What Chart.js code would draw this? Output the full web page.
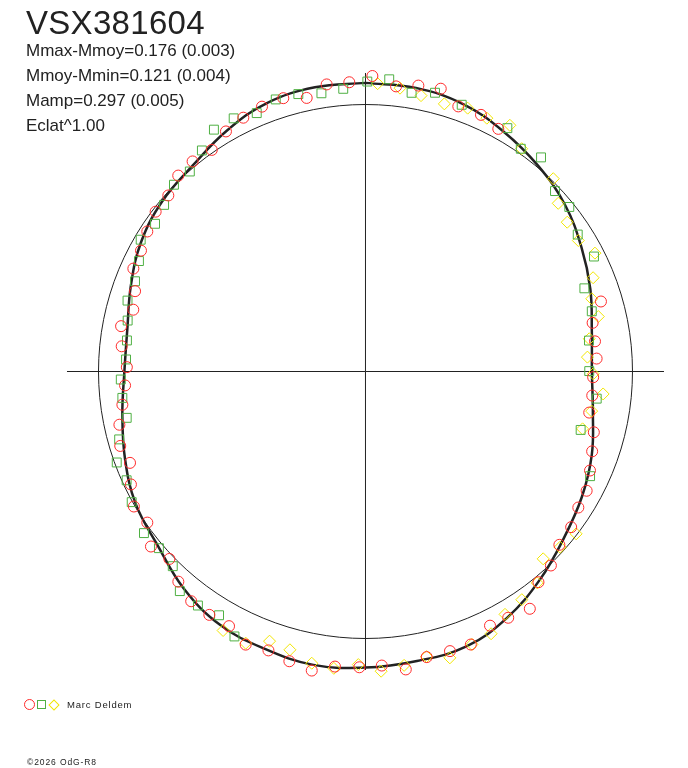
<!DOCTYPE html>
<html lang="fr">
<head>
<meta charset="UTF-8" />
<title>VSX381604</title>
<script src="https://cdn.jsdelivr.net/npm/chart.js@4.4.1/dist/chart.umd.min.js"></script>
<style>
  body{margin:0;background:#fff;font-family:"Liberation Sans",Arial,sans-serif;color:#222}
  #wrap{position:relative;width:688px;height:768px;overflow:hidden}
  #chart{position:absolute;left:0;top:0}
  .title{position:absolute;left:26px;top:6px;font-size:33px;line-height:33px;letter-spacing:0.3px}
  .stats{position:absolute;left:26px;top:38px;font-size:17px;line-height:25px}
  .sym{position:absolute;box-sizing:border-box;border:1px solid}
  .who{position:absolute;left:67px;top:700px;font-size:9.5px;line-height:10px;letter-spacing:0.8px}
  .copy{position:absolute;left:27px;top:758px;font-size:8.5px;line-height:9px;letter-spacing:0.9px}
</style>
</head>
<body>
<div id="wrap">
  <canvas id="chart" width="688" height="768"></canvas>
  <div class="title">VSX381604</div>
  <div class="stats">
    <div>Mmax-Mmoy=0.176 (0.003)</div>
    <div>Mmoy-Mmin=0.121 (0.004)</div>
    <div>Mamp=0.297 (0.005)</div>
    <div>Eclat^1.00</div>
  </div>
  <span class="sym" style="left:24px;top:699px;width:11px;height:11px;border-radius:50%;border-color:#ff2a2a"></span>
  <span class="sym" style="left:37px;top:700px;width:9px;height:9px;border-color:#4fb043"></span>
  <span class="sym" style="left:49.5px;top:700.5px;width:8px;height:8px;transform:rotate(45deg);border-color:#f2e600"></span>
  <div class="who">Marc Deldem</div>
  <div class="copy">©2026 OdG-R8</div>
</div>
<script>
  // phase (0..1, clockwise from top) and relative flux (1 = mean, reference circle)
  const redPhase = [0.0037,0.0170,0.0291,0.0414,0.0536,0.0673,0.0797,0.2040,0.2164,0.2292,0.2411,0.2540,0.2668,0.2789,0.2914,0.3039,0.3161,0.3287,0.3405,0.3531,0.3661,0.3786,0.3906,0.4036,0.4164,0.4275,0.4414,0.4533,0.4664,0.4786,0.4912,0.5033,0.5164,0.5283,0.5409,0.5533,0.5658,0.5783,0.5908,0.6033,0.6158,0.6286,0.6411,0.6536,0.6660,0.6786,0.6911,0.7031,0.7161,0.7284,0.7408,0.7529,0.7664,0.7792,0.7914,0.8034,0.8164,0.8286,0.8408,0.8536,0.8660,0.8786,0.8904,0.9035,0.9162,0.9286,0.9407,0.9535,0.9663,0.9786,0.9911];
  const redFlux  = [1.107,1.074,1.089,1.096,1.052,1.054,1.036,0.920,0.870,0.867,0.867,0.853,0.854,0.852,0.885,0.900,0.919,0.941,0.946,0.966,0.974,1.005,1.021,1.081,1.066,1.060,1.096,1.094,1.094,1.126,1.103,1.108,1.111,1.138,1.122,1.106,1.117,1.082,1.083,1.080,1.054,1.016,1.037,0.994,1.004,0.975,0.946,0.960,0.943,0.919,0.902,0.894,0.918,0.931,0.900,0.914,0.951,0.955,0.971,0.988,0.990,1.015,1.019,1.010,1.040,1.055,1.065,1.069,1.048,1.085,1.085];

  const greenPhase = [0.0010,0.0129,0.0261,0.0389,0.0551,0.0840,0.0969,0.1093,0.1289,0.1419,0.1588,0.1758,0.1922,0.2086,0.2281,0.2497,0.2686,0.2922,0.3194,0.5731,0.5861,0.5989,0.6117,0.6242,0.6374,0.6497,0.6689,0.6820,0.6942,0.7072,0.7195,0.7328,0.7448,0.7580,0.7706,0.7836,0.7961,0.8094,0.8222,0.8344,0.8474,0.8600,0.8730,0.8853,0.8986,0.9109,0.9236,0.9366,0.9493,0.9622,0.9750,0.9875];
  const greenFlux  = [1.086,1.098,1.058,1.076,1.062,1.055,1.017,1.037,0.980,0.981,0.946,0.958,0.877,0.877,0.845,0.838,0.872,0.835,0.928,1.107,1.065,1.078,1.077,1.026,1.018,1.027,1.003,0.983,0.992,0.957,0.911,0.916,0.917,0.898,0.901,0.911,0.930,0.927,0.944,0.976,0.963,0.979,1.002,0.997,1.030,1.069,1.069,1.050,1.073,1.069,1.055,1.062];

  const yellowPhase = [0.0067,0.0193,0.0316,0.0456,0.0589,0.0711,0.0844,0.0973,0.1229,0.1358,0.1486,0.1622,0.1742,0.1878,0.2005,0.2131,0.2269,0.2397,0.2516,0.2650,0.2776,0.2911,0.3545,0.3669,0.3792,0.3914,0.4044,0.4170,0.4289,0.4408,0.4544,0.4664,0.4792,0.4917,0.5039,0.5169,0.5290,0.5422,0.5544,0.5661,0.5800];
  const yellowFlux  = [1.079,1.069,1.054,1.045,1.058,1.052,1.069,1.019,1.008,0.958,0.940,0.936,0.967,0.922,0.890,0.896,0.847,0.833,0.853,0.894,0.860,0.841,0.996,0.982,0.967,1.020,1.036,1.049,1.089,1.097,1.118,1.092,1.110,1.124,1.098,1.118,1.111,1.080,1.072,1.112,1.107];

  // fitted light curve
  const curvePhase = [0,0.028,0.056,0.083,0.111,0.139,0.167,0.194,0.222,0.25,0.278,0.306,0.333,0.361,0.389,0.417,0.444,0.472,0.5,0.528,0.556,0.583,0.611,0.639,0.667,0.694,0.722,0.75,0.778,0.806,0.833,0.861,0.889,0.917,0.944,0.972];
  const curveFlux  = [1.081,1.079,1.066,1.037,1.006,0.974,0.933,0.897,0.861,0.848,0.865,0.903,0.936,0.970,1.017,1.064,1.097,1.101,1.109,1.116,1.105,1.094,1.060,1.015,0.993,0.959,0.925,0.903,0.906,0.936,0.970,0.993,1.007,1.041,1.071,1.081];

  const ECLAT_POW = 1.00;
  const AXIS_REACH = 1.118;

  function polar(phase, flux){
    return phase.map((p,i)=>{
      const r = Math.pow(flux[i], ECLAT_POW), a = 2*Math.PI*p;
      return {x: r*Math.sin(a), y: r*Math.cos(a)};
    });
  }
  const curvePts = polar(curvePhase, curveFlux);
  curvePts.push(curvePts[0]);

  const frame = {
    id:'frame',
    beforeDatasetsDraw(c){
      const {ctx, scales:{x,y}} = c;
      const cx = x.getPixelForValue(0), cy = y.getPixelForValue(0);
      const rx = x.getPixelForValue(1)-cx, ry = cy-y.getPixelForValue(1);
      ctx.save();
      ctx.strokeStyle='#222';ctx.lineWidth=1;
      ctx.beginPath();ctx.ellipse(cx,cy,rx,ry,0,0,2*Math.PI);ctx.stroke();
      ctx.beginPath();
      ctx.moveTo(x.getPixelForValue(-AXIS_REACH),cy);ctx.lineTo(x.getPixelForValue(AXIS_REACH),cy);
      ctx.moveTo(cx,y.getPixelForValue(AXIS_REACH));ctx.lineTo(cx,y.getPixelForValue(-AXIS_REACH));
      ctx.stroke();
      ctx.restore();
    }
  };

  const marker = (data,style,r,color)=>({data,pointStyle:style,pointRadius:r,borderColor:color,backgroundColor:'rgba(0,0,0,0)',borderWidth:1,pointBorderWidth:1});

  new Chart(document.getElementById('chart'),{
    type:'scatter',
    data:{datasets:[
      marker(polar(redPhase,redFlux),'circle',5.5,'#ff2a2a'),
      marker(polar(greenPhase,greenFlux),'rect',6.3,'#4fb043'),
      marker(polar(yellowPhase,yellowFlux),'rectRot',6,'#f2e600'),
      {data:curvePts,showLine:true,tension:0.4,pointRadius:0,borderColor:'#222',borderWidth:2.5}
    ]},
    options:{
      responsive:false,animation:false,events:[],
      layout:{padding:0,autoPadding:false},
      plugins:{legend:{display:false},tooltip:{enabled:false}},
      scales:{
        x:{type:'linear',display:false,min:-1.3689,max:1.2079},
        y:{type:'linear',display:false,min:-1.4850,max:1.3914}
      }
    },
    plugins:[frame]
  });
</script>
</body>
</html>
